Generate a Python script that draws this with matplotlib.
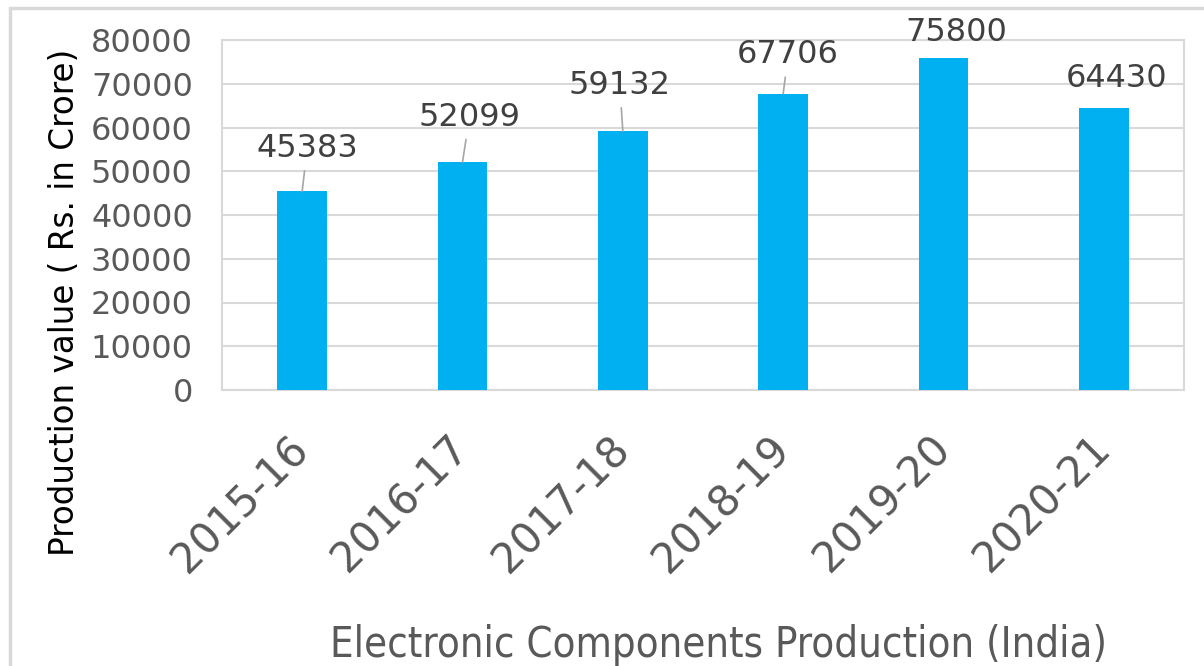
import matplotlib
matplotlib.use("Agg")
import matplotlib.pyplot as plt
from matplotlib.patches import Rectangle

categories = ["2015-16", "2016-17", "2017-18", "2018-19", "2019-20", "2020-21"]
values = [45383, 52099, 59132, 67706, 75800, 64430]
y_ticks = [0, 10000, 20000, 30000, 40000, 50000, 60000, 70000, 80000]

# label offsets (pixels) from bar top, and whether a leader line is drawn
label_dx = [5, 7, -3, 5, 13, 13]
label_dy = [43, 45, 46, 39, 26, 30]
leader = [True, True, True, True, False, False]

W, H = 1204, 666
fig = plt.figure(figsize=(W / 100, H / 100), dpi=100)
fig.patch.set_facecolor("white")

# chart border
fig.patches.append(Rectangle((10 / W, -0.2), 1.2, 1.2 - 8 / H, transform=fig.transFigure,
                             fill=False, edgecolor="#D9D9D9", linewidth=2.5, zorder=0))

left, right, top, bottom = 222, 1184, 40, 390
ax = fig.add_axes([left / W, 1 - bottom / H, (right - left) / W, (bottom - top) / H])

x = list(range(len(categories)))
ax.bar(x, values, width=0.31, color="#00B0F0", zorder=3)
ax.set_xlim(-0.5, len(categories) - 0.5)
ax.set_ylim(0, 80000)
ax.set_yticks(y_ticks)
ax.set_yticklabels([str(v) for v in y_ticks])
ax.set_xticks(x)
ax.set_xticklabels(categories, rotation=45, ha="right", va="center", rotation_mode="anchor")

ax.tick_params(axis="y", length=0, pad=21, labelsize=23, labelcolor="#595959")
ax.tick_params(axis="x", length=0, pad=38, labelsize=30, labelcolor="#595959")

ax.grid(axis="y", color="#D9D9D9", linewidth=1.5, zorder=0)
ax.set_axisbelow(True)
for s in ax.spines.values():
    s.set_color("#D9D9D9")
    s.set_linewidth(1.5)

for i, v in enumerate(values):
    props = None
    if leader[i]:
        props = dict(arrowstyle="-", color="#A6A6A6", lw=1.2, shrinkA=3, shrinkB=0)
    ax.annotate(str(v), xy=(i, v), xytext=(label_dx[i], label_dy[i]),
                textcoords="offset pixels", ha="center", va="center",
                fontsize=23, color="#404040", arrowprops=props, zorder=5,
                annotation_clip=False)

fig.text(65 / W, 1 - 302 / H, "Production value ( Rs. in Crore)", rotation=90,
         ha="center", va="center", fontsize=23.5, color="black")

fig.text(718 / W, 1 - 645 / H, "Electronic Components Production (India)",
         ha="center", va="center", fontsize=30, color="#595959",
         family="DejaVu Sans", fontstretch="condensed")

fig.savefig("out.png", dpi=100)
